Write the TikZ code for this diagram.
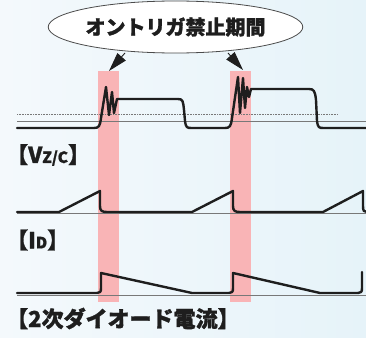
\documentclass[tikz,border=0pt]{standalone}
\usepackage{fontspec}
\newfontfamily\jp{Noto Sans CJK JP}[BoldFeatures={FakeBold=1.3}]
\usetikzlibrary{shapes.geometric,arrows.meta}
\definecolor{bandpink}{RGB}{249,180,182}
\definecolor{bgl}{RGB}{244,249,252}
\definecolor{bgr}{RGB}{230,243,249}
\definecolor{basegray}{RGB}{120,120,120}
\definecolor{inkdark}{RGB}{30,30,30}
\tikzset{
  wave/.style={draw=inkdark,line width=2.4pt,line join=round,line cap=round},
  baseline/.style={draw=basegray,line width=0.9pt},
  dotline/.style={draw=basegray,line width=0.7pt,dash pattern=on 0.8pt off 0.8pt},
  band/.style={fill=bandpink,draw=none},
  lbl/.style={font=\jp\bfseries,text=inkdark,inner sep=0pt,anchor=west},
  callout/.style={ellipse,draw=inkdark!80,line width=0.8pt,fill=white,minimum width=248pt,minimum height=52pt,inner sep=0pt,font=\jp\bfseries\fontsize{20}{20}\selectfont,text=inkdark},
  pointer/.style={draw=inkdark,line width=0.9pt,-{Triangle[length=19pt,width=11pt]}}
}
\begin{document}
\begin{tikzpicture}[x=1pt,y=-1pt]
\useasboundingbox (0,0) rectangle (366,337);
\shade[left color=bgl,right color=bgr] (0,0) rectangle (366,337);
% bands
\fill[band] (98,71) rectangle (119,302);
\fill[band] (230,71) rectangle (251,302);
% reference lines
\draw[dotline] (17,114) -- (338,114);
\draw[baseline] (17,121) -- (366,121);
\draw[baseline] (17,213) -- (366,213);
\draw[baseline] (17,295) -- (366,295);
% top waveform
\draw[wave] (17,128) -- (94,128) .. controls (99,128) and (100,126) .. (101,118)
  -- (106,87) -- (109,115) -- (112,92) -- (114,113) -- (117,99) -- (178,99)
  .. controls (183,99) and (183,101) .. (184,110) -- (185,121)
  .. controls (186,128) and (187,128) .. (192,128) -- (225,128)
  .. controls (230,128) and (231,126) .. (232,118) -- (238,77) -- (240,113) -- (243,78)
  -- (245,108) -- (247,87) -- (249,97) -- (251,89) -- (309,89)
  .. controls (314,89) and (315,91) .. (316,100) -- (317,121)
  .. controls (318,128) and (319,128) .. (324,128) -- (366,128);
% Vz/c waveform
\draw[wave] (17,212) -- (59,212) -- (100,191) -- (100,206) .. controls (100,211) and (102,212) .. (107,212)
  -- (192,212) -- (233,191) -- (233,206) .. controls (233,211) and (235,212) .. (240,212)
  -- (323,212) -- (363,191) -- (363,206) .. controls (363,211) and (364,212) .. (367,212);
% ID waveform
\draw[wave] (17,293) -- (97,293) .. controls (100,293) and (101,292) .. (101,288) -- (101,273)
  -- (192,293) -- (229,293) .. controls (232,293) and (233,292) .. (233,288) -- (233,273)
  -- (320,293) -- (358,293) .. controls (361,293) and (362,292) .. (362,288) -- (362,272);
% callout
\node[callout] (call) at (175.5,27) {\raisebox{-0.5pt}{オントリガ禁止期間}};
\coordinate (s1) at (125,53);
\coordinate (t1) at (109,71);
\coordinate (s2) at (228,53);
\coordinate (t2) at (243,70);
\draw[pointer] (s1) -- (t1);
\draw[pointer] (s2) -- (t2);
% labels
\node[lbl] (lv) at (6,155) {\fontsize{22}{22}\selectfont 【V\fontsize{15.5}{15.5}\selectfont Z/C\fontsize{22}{22}\selectfont 】};
\node[lbl] (li) at (6,240) {\fontsize{22}{22}\selectfont 【I\fontsize{15.5}{15.5}\selectfont D\fontsize{22}{22}\selectfont 】};
\node[lbl] (ld) at (6,318.5) {\fontsize{22}{22}\selectfont 【2次ダイオード電流】};
\end{tikzpicture}
\end{document}
